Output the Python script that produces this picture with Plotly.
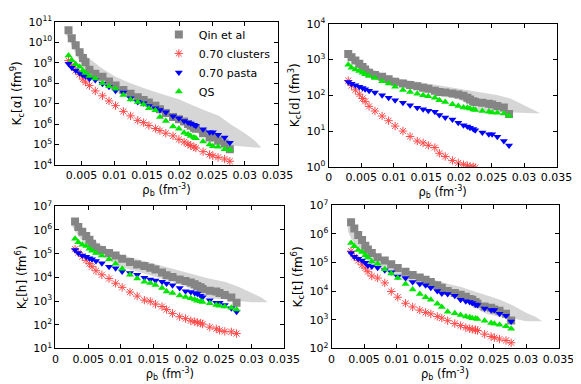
import plotly.graph_objects as go

# ---------------- data (log10 of K_c values) ----------------
rho = [0.0030, 0.0035, 0.0041, 0.0047, 0.0052, 0.0056, 0.0062, 0.0071, 0.0082, 0.0092,
       0.0102, 0.0114, 0.0125, 0.0136, 0.0145, 0.0153, 0.0163, 0.0170, 0.0179, 0.0190,
       0.0199, 0.0207, 0.0213, 0.0217, 0.0222, 0.0225, 0.0236, 0.0246, 0.0251, 0.0259,
       0.0269, 0.0277]

# alpha
alpha_qin = [10.58, 10.2, 9.85, 9.51, 9.23, 9.02, 8.66, 8.46, 8.31, 8.08, 7.88, 7.66, 7.48, 7.31,
             7.18, 7.05, 6.89, 6.72, 6.54, 6.35, 6.23, 6.12, 6.0, 5.92, 5.82, 5.77, 5.55, 5.34,
             5.35, 5.18, 5.05, 4.77]
alpha_clu = [9.1, 8.88, 8.62, 8.42, 8.2, 8.05, 7.88, 7.62, 7.38, 7.13, 6.9, 6.62, 6.4, 6.18,
             6.07, 5.93, 5.78, 5.68, 5.55, 5.42, 5.25, 5.12, 5.02, 4.95, 4.88, 4.83, 4.65, 4.51,
             4.45, 4.37, 4.29, 4.18]
alpha_pas = [8.95, 8.77, 8.62, 8.5, 8.4, 8.34, 8.22, 8.15, 7.97, 7.82, 7.63, 7.54, 7.26, 7.08,
             7.02, 6.88, 6.77, 6.69, 6.58, 6.38, 6.28, 6.15, 6.08, 6.03, 5.97, 5.92, 5.75, 5.6,
             5.6, 5.48, 5.34, 5.08]
alpha_qs = [9.35, 9.12, 8.92, 8.8, 8.62, 8.5, 8.35, 8.23, 8.0, 7.85, 7.72, 7.42, 7.2, 7.08,
            6.95, 6.77, 6.68, 6.34, 6.15, 5.88, 5.77, 5.57, 5.5, 5.42, 5.34, 5.31, 5.15, 5.0,
            4.92, 4.89, 4.77, 4.74]

# deuteron
d_qin = [3.15, 3.06, 2.97, 2.88, 2.79, 2.72, 2.63, 2.57, 2.52, 2.45, 2.38, 2.33, 2.29, 2.25,
         2.21, 2.18, 2.13, 2.09, 2.08, 2.05, 2.02, 1.99, 1.93, 1.88, 1.83, 1.81, 1.79, 1.76,
         1.74, 1.7, 1.66, 1.48]
d_clu = [2.41, 2.27, 2.15, 2.03, 1.91, 1.83, 1.69, 1.56, 1.42, 1.29, 1.14, 1.0, 0.85, 0.72,
         0.67, 0.6, 0.54, 0.38, 0.29, 0.18, 0.11, 0.06, 0.03, 0.01, 0.0, -0.02]
d_pas = [2.37, 2.32, 2.28, 2.24, 2.2, 2.17, 2.13, 2.08, 2.0, 1.93, 1.86, 1.79, 1.72, 1.65,
         1.61, 1.57, 1.54, 1.45, 1.38, 1.32, 1.23, 1.16, 1.13, 1.09, 1.06, 1.02, 0.96, 0.91,
         0.91, 0.84, 0.72, 0.6]
d_qs = [2.85, 2.77, 2.72, 2.68, 2.63, 2.59, 2.54, 2.48, 2.39, 2.33, 2.24, 2.15, 2.09, 2.04,
        2.0, 1.97, 1.93, 1.86, 1.81, 1.75, 1.7, 1.66, 1.65, 1.63, 1.6, 1.59, 1.56, 1.54,
        1.52, 1.51, 1.49, 1.43]

# helion
h_qin = [6.36, 6.13, 5.93, 5.75, 5.59, 5.42, 5.26, 5.15, 5.03, 4.92, 4.79, 4.65, 4.54, 4.48,
         4.41, 4.33, 4.21, 4.09, 4.02, 3.91, 3.85, 3.78, 3.71, 3.64, 3.58, 3.51, 3.44, 3.4,
         3.34, 3.26, 3.15, 2.93]
h_clu = [5.19, 5.05, 4.88, 4.72, 4.58, 4.45, 4.28, 4.11, 3.95, 3.75, 3.58, 3.38, 3.21, 3.04,
         2.99, 2.87, 2.77, 2.64, 2.48, 2.34, 2.26, 2.17, 2.13, 2.1, 2.07, 2.03, 1.9, 1.83,
         1.77, 1.72, 1.7, 1.63]
h_pas = [5.16, 5.03, 4.92, 4.87, 4.81, 4.76, 4.69, 4.6, 4.45, 4.38, 4.25, 4.18, 4.11, 3.98,
         3.91, 3.87, 3.82, 3.74, 3.67, 3.55, 3.42, 3.38, 3.34, 3.31, 3.23, 3.16, 3.04, 2.93,
         2.93, 2.83, 2.7, 2.55]
h_qs = [5.63, 5.48, 5.38, 5.32, 5.21, 5.12, 5.03, 4.92, 4.76, 4.58, 4.36, 4.11, 3.95, 3.82,
        3.76, 3.68, 3.55, 3.4, 3.34, 3.24, 3.17, 3.12, 3.07, 3.01, 2.99, 2.96, 2.91, 2.84,
        2.8, 2.77, 2.72, 2.64]

# triton
t_qin = [6.41, 6.19, 5.96, 5.79, 5.59, 5.46, 5.33, 5.19, 5.07, 4.94, 4.81, 4.68, 4.57, 4.48,
         4.4, 4.32, 4.21, 4.12, 4.01, 3.94, 3.88, 3.81, 3.73, 3.7, 3.62, 3.56, 3.47, 3.42,
         3.36, 3.32, 3.21, 2.98]
t_clu = [5.4, 5.2, 5.07, 4.92, 4.81, 4.68, 4.53, 4.46, 4.29, 3.99, 3.79, 3.58, 3.45, 3.34,
         3.26, 3.21, 3.12, 3.06, 2.97, 2.87, 2.8, 2.73, 2.69, 2.67, 2.65, 2.63, 2.5, 2.42,
         2.38, 2.33, 2.28, 2.2]
t_pas = [5.33, 5.2, 5.13, 5.07, 4.99, 4.9, 4.86, 4.82, 4.73, 4.66, 4.51, 4.46, 4.32, 4.25,
         4.21, 4.12, 4.01, 3.92, 3.9, 3.84, 3.7, 3.65, 3.62, 3.59, 3.54, 3.52, 3.4, 3.34,
         3.34, 3.21, 3.14, 2.94]
t_qs = [5.68, 5.57, 5.44, 5.37, 5.26, 5.18, 5.04, 4.96, 4.77, 4.62, 4.46, 4.25, 4.06, 3.9,
        3.79, 3.7, 3.56, 3.45, 3.28, 3.23, 3.17, 3.12, 3.09, 3.06, 3.05, 3.03, 2.97, 2.89,
        2.86, 2.83, 2.78, 2.69]

# experimental band (Qin et al uncertainty), log10 upper / lower edges
band_x = [0.0025, 0.003, 0.004, 0.005, 0.006, 0.008, 0.01, 0.012, 0.015, 0.018, 0.02, 0.021,
          0.022, 0.023, 0.024, 0.026, 0.028, 0.03, 0.0315, 0.0325]
alpha_band_up = [10.75, 10.5, 10.05, 9.6, 9.25, 8.75, 8.35, 8.05, 7.7, 7.4, 7.2, 7.05, 6.9,
                 6.78, 6.65, 6.4, 5.95, 5.55, 5.2, 4.85]
alpha_band_lo = [10.45, 10.15, 9.5, 8.9, 8.45, 7.95, 7.6, 7.3, 6.85, 6.4, 6.05, 5.9, 5.65,
                 5.5, 5.35, 5.1, 4.95, 4.9, 4.85, 4.85]
d_band_up = [3.24, 3.15, 3.0, 2.88, 2.78, 2.63, 2.5, 2.43, 2.34, 2.25, 2.18, 2.15, 2.12, 2.09,
             2.06, 2.0, 1.9, 1.72, 1.58, 1.5]
d_band_lo = [3.1, 3.05, 2.88, 2.66, 2.52, 2.39, 2.27, 2.2, 2.09, 1.97, 1.88, 1.8, 1.7, 1.55,
             1.54, 1.54, 1.54, 1.51, 1.5, 1.5]
h_band_up = [6.4, 6.25, 6.0, 5.75, 5.55, 5.2, 4.95, 4.8, 4.55, 4.35, 4.2, 4.12, 4.05, 3.98,
             3.92, 3.8, 3.6, 3.35, 3.15, 2.95]
h_band_lo = [6.2, 5.95, 5.55, 5.2, 4.98, 4.75, 4.45, 4.3, 4.05, 3.8, 3.6, 3.47, 3.35, 3.15,
             3.1, 3.05, 3.0, 2.95, 2.95, 2.95]
t_band_up = [6.45, 6.3, 5.95, 5.55, 5.35, 5.1, 4.85, 4.7, 4.45, 4.25, 4.15, 4.07, 4.0, 3.93,
             3.85, 3.7, 3.5, 3.25, 3.1, 2.95]
t_band_lo = [6.1, 5.85, 5.5, 5.2, 4.98, 4.75, 4.45, 4.3, 4.1, 3.9, 3.75, 3.62, 3.5, 3.3,
             3.2, 3.1, 3.05, 2.95, 2.95, 2.95]

series_names = ["Qin et al", "0.70 clusters", "0.70 pasta", "QS"]
y_titles = ["K<sub>c</sub>[α] (fm<sup>9</sup>)", "K<sub>c</sub>[d] (fm<sup>3</sup>)",
            "K<sub>c</sub>[h] (fm<sup>6</sup>)", "K<sub>c</sub>[t] (fm<sup>6</sup>)"]
x_title = "ρ<sub>b</sub> (fm<sup>-3</sup>)"
x_ranges = [[0.001, 0.035], [0, 0.035], [0, 0.035], [0, 0.035]]
y_decades = [list(range(4, 12)), list(range(0, 5)), list(range(1, 8)), list(range(2, 8))]
y_ticktext = [[f"10<sup>{k}</sup>" for k in dec] for dec in y_decades]

panels = [
    (alpha_qin, alpha_clu, alpha_pas, alpha_qs, alpha_band_up, alpha_band_lo),
    (d_qin, d_clu, d_pas, d_qs, d_band_up, d_band_lo),
    (h_qin, h_clu, h_pas, h_qs, h_band_up, h_band_lo),
    (t_qin, t_clu, t_pas, t_qs, t_band_up, t_band_lo),
]

# ---------------- styling / layout ----------------
W, H = 581, 384
frames = [(45, 275, 6, 155), (328, 564, 8, 157), (45, 282, 198, 346), (331, 566, 197, 346)]
FONT = "DejaVu Sans"
BAND_COLOR = "#d6d6d6"
styles = [
    dict(symbol="square", color="#858585", size=8, line=dict(width=0)),
    dict(symbol="asterisk-open", color="#ff4a4a", size=7, line=dict(width=1, color="#ff4a4a")),
    dict(symbol="triangle-down", color="#0000ff", size=7, line=dict(width=0)),
    dict(symbol="triangle-up", color="#00e600", size=7, line=dict(width=0)),
]

def pw(v):
    return [10 ** e for e in v]

fig = go.Figure()
for i, (qin, clu, pas, qs, bup, blo) in enumerate(panels):
    xa = "x" if i == 0 else f"x{i+1}"
    ya = "y" if i == 0 else f"y{i+1}"
    fig.add_trace(go.Scatter(
        x=band_x + band_x[::-1], y=pw(bup) + pw(blo[::-1]),
        fill="toself", fillcolor=BAND_COLOR, line=dict(width=0, color=BAND_COLOR),
        mode="lines", hoverinfo="skip", showlegend=False, xaxis=xa, yaxis=ya))
    for k, vals in enumerate([qin, clu, pas, qs]):
        st = styles[k]
        fig.add_trace(go.Scatter(
            x=rho[:len(vals)], y=pw(vals), mode="markers", name=series_names[k],
            marker=dict(symbol=st["symbol"], color=st["color"], size=st["size"], line=st["line"]),
            showlegend=(i == 0), xaxis=xa, yaxis=ya, cliponaxis=True))

layout = dict(
    width=W, height=H, margin=dict(l=0, r=0, t=0, b=0),
    paper_bgcolor="white", plot_bgcolor="white",
    font=dict(family=FONT, size=11, color="black"),
    legend=dict(x=frames[0][1] / W - 0.003, xanchor="right", y=1 - frames[0][2] / H + 0.005,
                yanchor="top", bgcolor="rgba(0,0,0,0)", font=dict(size=11), tracegroupgap=0,
                itemwidth=30),
)
for i, (l, r, t, b) in enumerate(frames):
    xs = "xaxis" if i == 0 else f"xaxis{i+1}"
    ys = "yaxis" if i == 0 else f"yaxis{i+1}"
    anchor_x = "y" if i == 0 else f"y{i+1}"
    anchor_y = "x" if i == 0 else f"x{i+1}"
    common = dict(showline=True, linecolor="black", linewidth=1, mirror="ticks",
                  ticks="inside", ticklen=4, tickcolor="black", showgrid=False,
                  zeroline=False, tickfont=dict(size=11))
    layout[xs] = dict(domain=[l / W, r / W], range=x_ranges[i], dtick=0.005, anchor=anchor_x,
                      title=dict(text=x_title, standoff=1, font=dict(size=11.5)), **common)
    layout[ys] = dict(domain=[1 - b / H, 1 - t / H], type="log",
                      range=[y_decades[i][0], y_decades[i][-1]],
                      tickvals=pw(y_decades[i]), ticktext=y_ticktext[i], anchor=anchor_y,
                      title=dict(text=y_titles[i], standoff=4, font=dict(size=12)), **common)

fig.update_layout(**layout)
fig.write_html("out.html")
